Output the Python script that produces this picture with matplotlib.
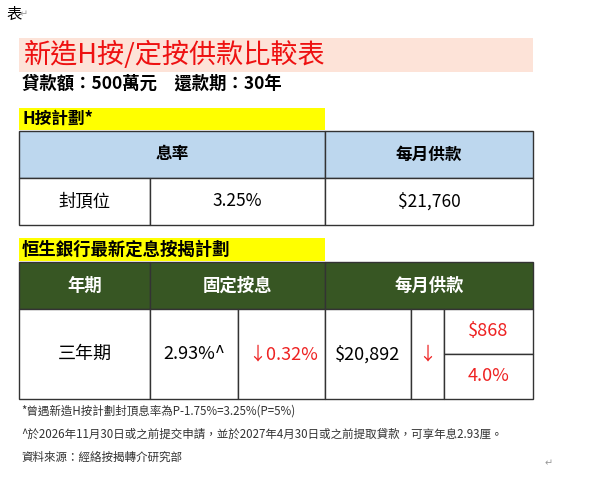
import matplotlib.pyplot as plt
from matplotlib.patches import Rectangle

plt.rcParams['font.family'] = ['Noto Sans CJK TC', 'DejaVu Sans']

title = "新造H按/定按供款比較表"
subtitle = "貸款額：500萬元　還款期：30年"
h_section = "H按計劃*"
h_headers = ["息率", "每月供款"]
h_row = ["封頂位", "3.25%", "$21,760"]
f_section = "恒生銀行最新定息按揭計劃"
f_headers = ["年期", "固定按息", "每月供款"]
f_term = "三年期"
f_rate = "2.93%^"
f_rate_cut = "↓0.32%"
f_payment = "$20,892"
f_saving = "$868"
f_saving_pct = "4.0%"
notes = [
    "*曾遇新造H按計劃封頂息率為P-1.75%=3.25%(P=5%)",
    "^於2026年11月30日或之前提交申請，並於2027年4月30日或之前提取貸款，可享年息2.93厘。",
    "資料來源：經絡按揭轉介研究部",
]

fig = plt.figure(figsize=(5.93, 4.79), dpi=100)
ax = fig.add_axes([0, 0, 1, 1])
ax.set_xlim(0, 593)
ax.set_ylim(479, 0)
ax.axis("off")


def box(x0, y0, x1, y1, fc="white", ec="#333333", lw=1.0):
    ax.add_patch(Rectangle((x0, y0), x1 - x0, y1 - y0, fc=fc, ec=ec, lw=lw))


def txt(x, y, s, size=11, color="black", weight="normal", ha="center"):
    ax.text(x, y, s, fontsize=size, color=color, weight=weight, ha=ha, va="center")


txt(6, 14, "表", size=11, ha="left")
txt(20, 14, "↵", size=7, color="#999999", ha="left")

# title
box(19, 38, 533, 72, fc="#fde3d8", ec="none")
txt(24, 55, title, size=19.5, color="#ee1111", ha="left")
txt(22, 84, subtitle, size=12.5, weight="bold", ha="left")

# H plan table
box(19, 108, 325, 130, fc="#ffff00", ec="none")
txt(22, 119, h_section, size=12, weight="bold", ha="left")
box(19, 131, 325, 178, fc="#bdd7ee")
box(325, 131, 533, 178, fc="#bdd7ee")
txt(172, 154.5, h_headers[0], size=12, weight="bold")
txt(429, 154.5, h_headers[1], size=12, weight="bold")
box(19, 178, 150, 225)
box(150, 178, 325, 225)
box(325, 178, 533, 225)
for xc, s in zip([84.5, 237.5, 429], h_row):
    txt(xc, 201.5, s, size=12.5)

# fixed-rate table
box(19, 238, 325, 261, fc="#ffff00", ec="none")
txt(22, 249.5, f_section, size=12.5, weight="bold", ha="left")
green = "#375623"
for (x0, x1), s in zip([(19, 150), (150, 325), (325, 533)], f_headers):
    box(x0, 262, x1, 309, fc=green)
    txt((x0 + x1) / 2, 285.5, s, size=12.5, color="white", weight="bold")
for x0, x1 in [(19, 150), (150, 238), (238, 325), (325, 411), (411, 444)]:
    box(x0, 309, x1, 399)
box(444, 309, 533, 354)
box(444, 354, 533, 399)
red = "#ee2222"
txt(84.5, 354, f_term, size=13)
txt(194, 354, f_rate, size=13)
txt(283, 354, f_rate_cut, size=13, color=red)
txt(368, 354, f_payment, size=13)
txt(427.5, 354, "↓", size=13, color=red)
txt(488.5, 331, f_saving, size=13, color=red)
txt(488.5, 376, f_saving_pct, size=13, color=red)

for y, s in zip([411, 434, 457], notes):
    txt(21, y, s, size=8.3, color="#333333", ha="left")
txt(545, 463, "↵", size=7, color="#999999", ha="left")

fig.savefig("out.png", dpi=100)
